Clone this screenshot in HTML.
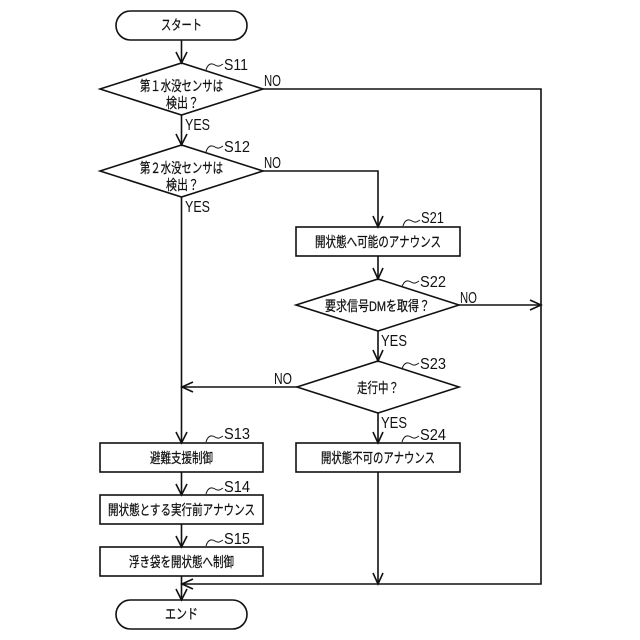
<!DOCTYPE html>
<html>
<head>
<meta charset="utf-8">
<style>
html,body{margin:0;padding:0;background:#fff;}
svg{display:block;}
text{font-family:"Liberation Sans","Noto Sans CJK JP",sans-serif;fill:#111;}
.j{font-size:14px;text-anchor:start;stroke:#111;stroke-width:.25;}
.l{font-size:15.5px;}
.s{fill:none;stroke:#111;stroke-width:1.6;}
.t{fill:none;stroke:#111;stroke-width:1;}
</style>
</head>
<body>
<svg width="640" height="640" viewBox="0 0 640 640" xmlns="http://www.w3.org/2000/svg">
<rect width="640" height="640" fill="#fff"/>
<!-- shapes -->
<rect class="s" x="116" y="11" width="131" height="29" rx="14.5"/>
<polygon class="s" points="100,89 181.500,63 263,89 181.500,115"/>
<polygon class="s" points="100,171 181.500,145 263,171 181.500,197"/>
<rect class="s" x="296" y="227" width="164" height="29"/>
<polygon class="s" points="296,305 378,279 459,305 378,331"/>
<polygon class="s" points="297,387 378,361 459,387 378,413"/>
<rect class="s" x="296" y="443" width="164" height="29"/>
<rect class="s" x="100" y="443" width="163" height="29"/>
<rect class="s" x="100" y="495" width="163" height="29"/>
<rect class="s" x="100" y="547" width="163" height="29"/>
<rect class="s" x="116" y="600" width="131" height="29" rx="14.500"/>
<!-- connectors -->
<path class="s" d="M181.500 40V63M181.500 115V145M181.500 197V443M181.500 472V495M181.500 524V547M181.500 576V600"/>
<path class="s" d="M263 89H541V584H182"/>
<path class="s" d="M263 171H378V227M378 256V279M378 331V361M378 413V443M378 472V584"/>
<path class="s" d="M459 305H541M297 387H182"/>
<!-- arrowheads -->
<path class="s" d="M176 52L181.500 63L187 52M176 134L181.500 145L187 134M176 432L181.500 443L187 432M176 484L181.500 495L187 484M176 536L181.500 547L187 536M176 589L181.500 600L187 589"/>
<path class="s" d="M373 216L378 227L383 216M373 268L378 279L383 268M373 350L378 361L383 350M373 432L378 443L383 432M373 573L378 584L383 573"/>
<path class="s" d="M530 300L541 305L530 310M193 382L182 387L193 392M193 579L182 584L193 589"/>
<!-- step tildes -->
<path class="t" d="M206 70C208 63 212 63 215 65C218 67 220 66 223 64"/>
<path class="t" d="M206 152C208 145 212 145 215 147C218 149 220 148 223 146"/>
<path class="t" d="M403 226C405 219 409 219 412 221C415 223 417 222 420 220"/>
<path class="t" d="M402 287C404 280 408 280 411 282C414 284 416 283 419 281"/>
<path class="t" d="M402 369C404 362 408 362 411 364C414 366 416 365 419 363"/>
<path class="t" d="M402 442C404 435 408 435 411 437C414 439 416 438 419 436"/>
<path class="t" d="M206 442C208 435 212 435 215 437C218 439 220 438 223 436"/>
<path class="t" d="M206 494C208 487 212 487 215 489C218 491 220 490 223 488"/>
<path class="t" d="M206 546C208 539 212 539 215 541C218 543 220 542 223 540"/>
<!-- step labels -->
<text class="l" x="224" y="70" textLength="24" lengthAdjust="spacingAndGlyphs">S11</text>
<text class="l" x="224" y="152" textLength="26" lengthAdjust="spacingAndGlyphs">S12</text>
<text class="l" x="421" y="223" textLength="23" lengthAdjust="spacingAndGlyphs">S21</text>
<text class="l" x="420" y="287" textLength="26" lengthAdjust="spacingAndGlyphs">S22</text>
<text class="l" x="420" y="369" textLength="26" lengthAdjust="spacingAndGlyphs">S23</text>
<text class="l" x="420" y="440" textLength="26" lengthAdjust="spacingAndGlyphs">S24</text>
<text class="l" x="224" y="439" textLength="26" lengthAdjust="spacingAndGlyphs">S13</text>
<text class="l" x="224" y="492" textLength="26" lengthAdjust="spacingAndGlyphs">S14</text>
<text class="l" x="224" y="544" textLength="26" lengthAdjust="spacingAndGlyphs">S15</text>
<!-- YES / NO -->
<text class="l" x="264" y="86" textLength="17" lengthAdjust="spacingAndGlyphs">NO</text>
<text class="l" x="264" y="168" textLength="17" lengthAdjust="spacingAndGlyphs">NO</text>
<text class="l" x="460" y="303" textLength="17" lengthAdjust="spacingAndGlyphs">NO</text>
<text class="l" x="274" y="384" textLength="18" lengthAdjust="spacingAndGlyphs">NO</text>
<text class="l" x="185" y="130" textLength="25" lengthAdjust="spacingAndGlyphs">YES</text>
<text class="l" x="185" y="212" textLength="25" lengthAdjust="spacingAndGlyphs">YES</text>
<text class="l" x="381" y="346" textLength="26" lengthAdjust="spacingAndGlyphs">YES</text>
<text class="l" x="381" y="428" textLength="26" lengthAdjust="spacingAndGlyphs">YES</text>
<!-- Japanese labels -->
<text class="j" x="161" y="30" textLength="41" lengthAdjust="spacingAndGlyphs">スタート</text>
<text class="j" x="140" y="91" textLength="83" lengthAdjust="spacingAndGlyphs">第１水没センサは</text>
<text class="j" x="166" y="108" textLength="33" lengthAdjust="spacingAndGlyphs">検出？</text>
<text class="j" x="140" y="173" textLength="83" lengthAdjust="spacingAndGlyphs">第２水没センサは</text>
<text class="j" x="166" y="190" textLength="33" lengthAdjust="spacingAndGlyphs">検出？</text>
<text class="j" x="315" y="247" textLength="126" lengthAdjust="spacingAndGlyphs">開状態へ可能のアナウンス</text>
<text class="j" x="325" y="311" textLength="105" lengthAdjust="spacingAndGlyphs">要求信号DMを取得？</text>
<text class="j" x="357" y="393" textLength="42" lengthAdjust="spacingAndGlyphs">走行中？</text>
<text class="j" x="321" y="463" textLength="114" lengthAdjust="spacingAndGlyphs">開状態不可のアナウンス</text>
<text class="j" x="150" y="463" textLength="63" lengthAdjust="spacingAndGlyphs">避難支援制御</text>
<text class="j" x="108" y="515" textLength="147" lengthAdjust="spacingAndGlyphs">開状態とする実行前アナウンス</text>
<text class="j" x="129" y="567" textLength="105" lengthAdjust="spacingAndGlyphs">浮き袋を開状態へ制御</text>
<text class="j" x="165" y="619" textLength="33" lengthAdjust="spacingAndGlyphs">エンド</text>
</svg>
</body>
</html>
